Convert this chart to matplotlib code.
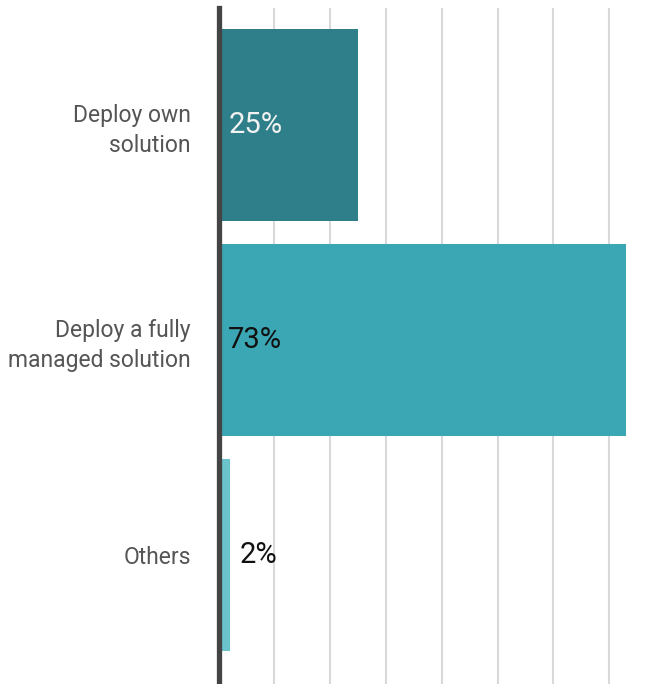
import matplotlib.pyplot as plt

categories = ["Deploy own\nsolution", "Deploy a fully\nmanaged solution", "Others"]
values = [25, 73, 2]
bar_colors = ["#2e7f89", "#3ca7b4", "#6bc3cc"]
label_colors = ["#f2f2f2", "#111111", "#111111"]

plt.rcParams['font.family'] = ['Roboto', 'DejaVu Sans']

fig = plt.figure(figsize=(6.61, 6.84), dpi=100)
ax = fig.add_axes([218.5 / 661, 0, 1 - 218.5 / 661, 1 - 8 / 684])

pos = list(range(len(categories)))
ax.barh(pos, values, height=0.893, color=bar_colors, zorder=2)

ax.set_xlim(0, 79.3)
ax.set_ylim(2.602, -0.544)

ax.set_xticks(range(10, 80, 10))
ax.grid(axis='x', color='#d9d9d9', linewidth=1.5, zorder=0)
ax.tick_params(axis='x', length=0, labelbottom=False)

ax.set_yticks(pos)
ax.set_yticklabels(categories, fontsize=16.5, color='#555555', linespacing=1.35)
ax.tick_params(axis='y', length=0, pad=20)

for s in ['top', 'right', 'bottom']:
    ax.spines[s].set_visible(False)
ax.spines['left'].set_color('#444444')
ax.spines['left'].set_linewidth(3.8)
ax.spines['left'].set_zorder(3)

for i, v in enumerate(values):
    x = 0 if v > 10 else v
    ax.annotate(f"{v}%", (x, i), xytext=(7, 0), textcoords='offset points',
                va='center', ha='left', fontsize=21, color=label_colors[i], zorder=4)

fig.savefig("out.png", dpi=100)
